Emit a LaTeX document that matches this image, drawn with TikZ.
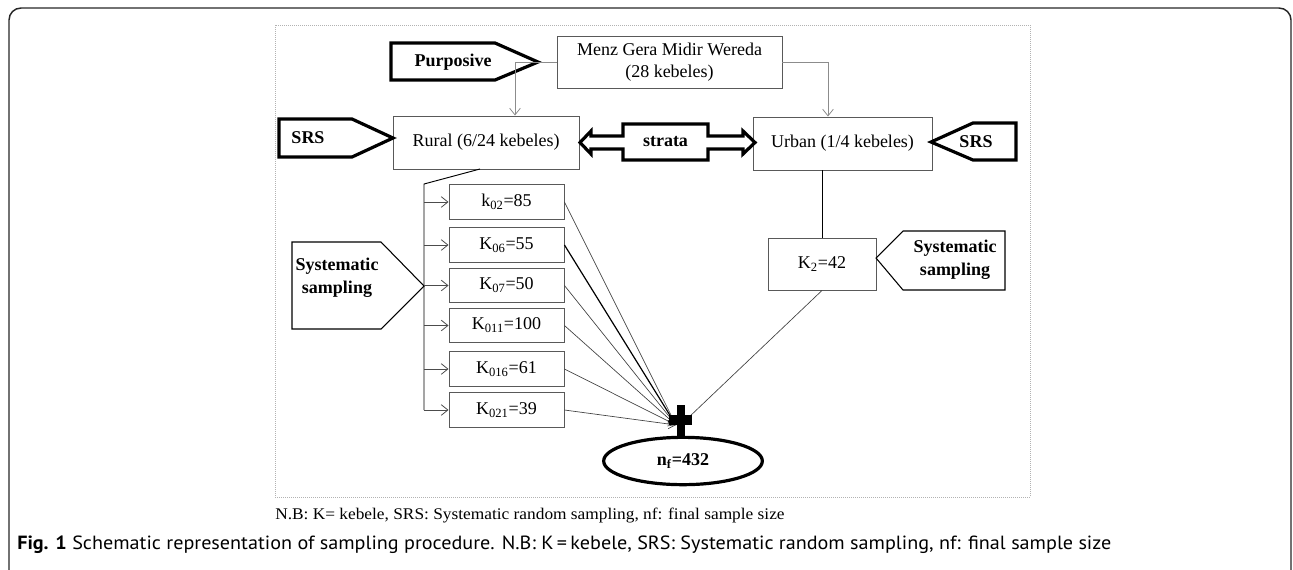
\documentclass[tikz,border=0pt]{standalone}
\usepackage{fontspec}
\usepackage{graphicx}
\setmainfont{Liberation Serif}
\newfontfamily\capfont{PT Sans}
\usetikzlibrary{arrows.meta,shapes.geometric}
\begin{document}
\begin{tikzpicture}[x=0.75pt,y=-0.75pt,
  box/.style={draw=black!65, line width=0.7pt, fill=white, inner sep=0pt, align=center,
    font=\fontsize{13.5}{17}\selectfont},
  kbox/.style={box, minimum width=86.25pt, minimum height=26pt},
  blab/.style={font=\fontsize{13.5}{16}\bfseries\selectfont, align=center, inner sep=0pt},
  thickshape/.style={draw=black, line width=2.4pt, line join=miter},
  thinshape/.style={draw=black, line width=0.8pt, line join=miter, fill=white},
  garrow/.style={draw=black!45, line width=0.6pt, -{Straight Barb[length=5pt,width=8pt]}},
  barrow/.style={draw=black!70, line width=0.6pt, -{Straight Barb[length=5pt,width=8pt]}},
  cline/.style={draw=black!75, line width=0.5pt, -{Straight Barb[length=5pt,width=7pt]}},
]
\useasboundingbox (0,0) rectangle (1293,569);
% outer frame
\draw[line width=1.1pt, black!85, rounded corners=9pt] (9,580) -- (9,8) -- (1291,8) -- (1291,580);
% inner frame
\draw[black!30, densely dotted, line width=0.5pt] (275,25) rectangle (1030,497);

% boxes
\node[box, minimum width=168.75pt, minimum height=39pt] (menz) at (669.5,62)
  {Menz Gera Midir Wereda\\(28 kebeles)};
\node[box, minimum width=139.5pt, minimum height=39.75pt] (rural) at (486,142.5) {Rural (6/24 kebeles)};
\node[box, minimum width=134.25pt, minimum height=39.75pt] (urban) at (842.5,143.5) {Urban (1/4 kebeles)};

\node[kbox] (k1) at (506.5,202) {k\textsubscript{02}=85};
\node[kbox] (k2) at (506.5,245) {K\textsubscript{06}=55};
\node[kbox] (k3) at (506.5,285.5) {K\textsubscript{07}=50};
\node[kbox] (k4) at (506.5,325.5) {K\textsubscript{011}=100};
\node[kbox] (k5) at (506.5,369) {K\textsubscript{016}=61};
\node[kbox] (k6) at (506.5,410) {K\textsubscript{021}=39};
\node[box, minimum width=81pt, minimum height=39pt] (kk) at (822,264) {K\textsubscript{2}=42};

\node[draw=black, line width=2.4pt, ellipse, minimum width=119pt, minimum height=35.5pt,
  inner sep=0pt, font=\fontsize{13.5}{16}\bfseries\selectfont] (nf) at (683,461) {n\textsubscript{f}=432};

% pentagon labels
\draw[thickshape] (391,43) -- (495,43) -- (538,62) -- (495,80) -- (391,80) -- cycle;
\node[blab] (purp) at (453,62) {Purposive};
\draw[thickshape] (279,119) -- (352,119) -- (393,138) -- (352,157) -- (279,157) -- cycle;
\node[blab] (srsl) at (308,138) {SRS};
\draw[thickshape] (931,142) -- (973,123) -- (1016,123) -- (1016,160) -- (973,160) -- cycle;
\node[blab] (srsr) at (976,142) {SRS};
\draw[thinshape] (292,242) -- (381,242) -- (424,286) -- (381,329) -- (292,329) -- cycle;
\node[blab] (sysl) at (337,278) {Systematic\\[1pt]sampling};
\draw[thinshape] (876,258) -- (903,231) -- (1005,231) -- (1005,290) -- (903,290) -- cycle;
\node[blab] (sysr) at (955,260) {Systematic\\[1pt]sampling};

% strata double arrow
\draw[thickshape, fill=white] (580,142.5) -- (591,131) -- (591,136) -- (623,136) -- (623,124) -- (708,124)
  -- (708,136) -- (743,136) -- (743,131) -- (755,142.5) -- (743,154) -- (743,149) -- (708,149)
  -- (708,160) -- (623,160) -- (623,149) -- (591,149) -- (591,154) -- cycle;
\node[blab] (strata) at (665.5,142) {strata};

% connectors
\draw[garrow] (menz.west) -| ([xshift=21.75pt]rural.north);
\draw[garrow] (menz.east) -| ([xshift=-10.875pt]urban.north);

\coordinate (rb) at (480,169);
\coordinate (trunk) at (424,184);
\coordinate (trunkend) at (424,410);
\draw[black, line width=0.7pt] (rb) -- (trunk) -- (trunkend);
\foreach \k in {k1,k2,k3,k4,k5,k6}
  \draw[barrow] (\k.west -| trunk) -- (\k.west);

\coordinate (conv) at (676,425);
\coordinate (conv2) at (688,418);
\foreach \k in {k1,k3,k4,k5,k6}
  \draw[cline] (\k.east) -- (conv);
\draw[black, line width=0.9pt, -{Straight Barb[length=5pt,width=7pt]}] (k2.east) -- (conv);
\draw[black, line width=0.7pt] (urban.south -| kk.north) -- (kk.north);
\draw[black!75, line width=0.5pt] (kk.south) -- (conv2);

% cross
\fill[black] (677,405) rectangle (685,437);
\fill[black] (669,415) rectangle (692,425);

% notes
\node[anchor=west, inner sep=0pt] (nb) at (275,516)
  {\resizebox{382pt}{8.6pt}{N.B: K= kebele, SRS: Systematic random sampling, nf: final sample size}};
\node[anchor=west, inner sep=0pt] (cap) at (17,545)
  {\resizebox{820.5pt}{10.2pt}{\capfont\textbf{Fig. 1} Schematic representation of sampling procedure. N.B: K\,=\,kebele, SRS: Systematic random sampling, nf: final sample size}};
\end{tikzpicture}
\end{document}
